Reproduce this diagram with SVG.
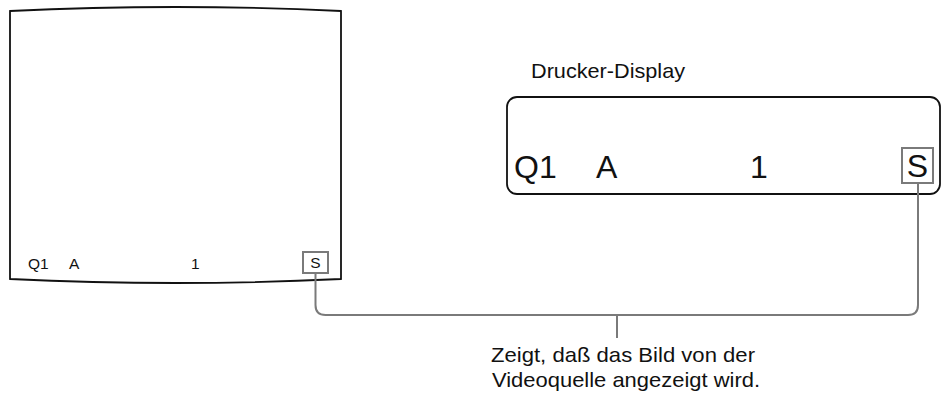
<svg xmlns="http://www.w3.org/2000/svg" width="945" height="401" viewBox="0 0 945 401">
<style>
text{font-family:"Liberation Sans",Arial,sans-serif;fill:#111}
.frame{fill:none;stroke:#111;stroke-width:1.8}
.sbox{fill:#fff;stroke:#7a7a7a;stroke-width:2}
.conn{fill:none;stroke:#7a7a7a;stroke-width:2}
.small{font-size:15.5px}
.big{font-size:32px}
.lbl{font-size:21px}
</style>
<rect width="945" height="401" fill="#fff"/>
<g id="monitor">
<path class="frame" d="M10,11 Q175.5,3 341,11 L341,279 Q175.5,287 10,279 Z"/>
<text class="small" x="28" y="269">Q1</text>
<text class="small" x="69" y="269">A</text>
<text class="small" x="191" y="269">1</text>
<rect class="sbox" x="303" y="252" width="25" height="21"/>
<text class="small" x="315.5" y="268" text-anchor="middle">S</text>
</g>
<g id="printer-display">
<text class="lbl" x="531" y="78" textLength="154" lengthAdjust="spacingAndGlyphs">Drucker-Display</text>
<rect class="frame" x="507" y="97" width="433" height="97" rx="10"/>
<text class="big" x="514" y="178">Q1</text>
<text class="big" x="596" y="178">A</text>
<text class="big" x="750" y="178">1</text>
<rect class="sbox" x="902" y="148" width="31" height="35"/>
<text class="big" x="917.5" y="177" text-anchor="middle">S</text>
</g>
<g id="connectors">
<path class="conn" d="M315.5,273 V305 Q315.5,315 325.5,315 H908 Q918,315 918,305 V183"/>
<path class="conn" d="M617,315 V338"/>
</g>
<g id="note">
<text class="lbl" x="491" y="362" textLength="264" lengthAdjust="spacingAndGlyphs">Zeigt, daß das Bild von der</text>
<text class="lbl" x="492" y="387" textLength="268" lengthAdjust="spacingAndGlyphs">Videoquelle angezeigt wird.</text>
</g>
</svg>
